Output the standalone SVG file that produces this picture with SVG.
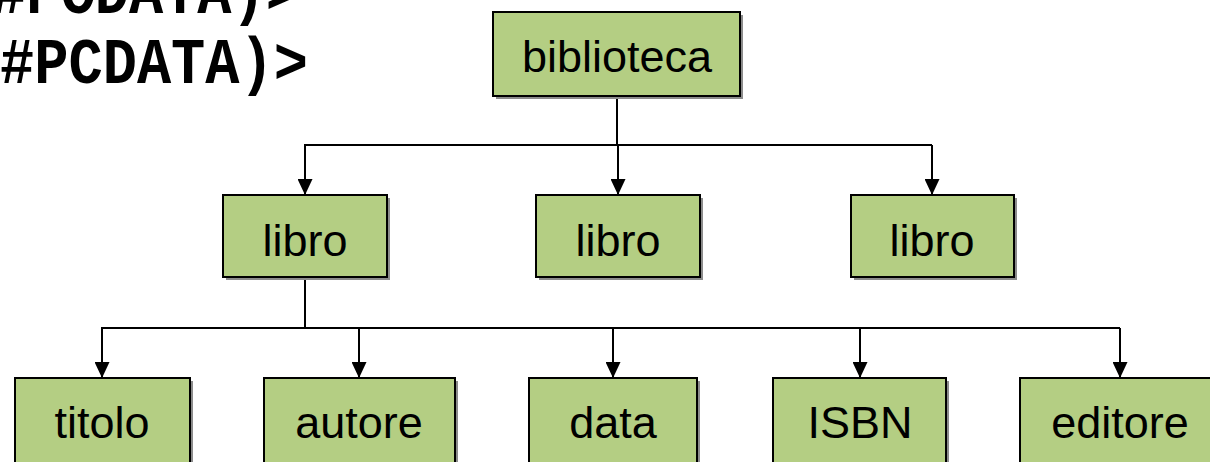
<svg xmlns="http://www.w3.org/2000/svg" width="1210" height="462" viewBox="0 0 1210 462">
  <style>
    .box { fill: #b4ce83; stroke: #000; stroke-width: 2; }
    .shadow { fill: #8c8c8c; }
    .label { font-family: "Liberation Sans", Arial, sans-serif; font-size: 45px; fill: #000; text-anchor: middle; }
    .code { font-family: "Liberation Mono", "Courier New", monospace; font-weight: bold; font-size: 64px; fill: #000; }
    .wire { fill: none; stroke: #000; stroke-width: 2; }
  </style>
  <defs>
    <marker id="arrow" viewBox="0 0 16 15" refX="16" refY="7.5" markerWidth="16" markerHeight="15" markerUnits="userSpaceOnUse" orient="auto">
      <path d="M0,0 L16,7.5 L0,15 z" fill="#000"/>
    </marker>
  </defs>

  <!-- DTD fragment at top left -->
  <g id="code">
    <text class="code" x="-8" y="13" textLength="308" lengthAdjust="spacingAndGlyphs">#PCDATA)&gt;</text>
    <text class="code" x="0" y="83" textLength="308" lengthAdjust="spacingAndGlyphs">#PCDATA)&gt;</text>
  </g>

  <!-- connectors -->
  <g id="connectors">
    <path class="wire" d="M617,96 V145"/>
    <path class="wire" d="M304,145 H932"/>
    <path class="wire" d="M305,145 V195" marker-end="url(#arrow)"/>
    <path class="wire" d="M618,145 V195" marker-end="url(#arrow)"/>
    <path class="wire" d="M932,145 V195" marker-end="url(#arrow)"/>
    <path class="wire" d="M305,277 V328"/>
    <path class="wire" d="M101,328 H1120"/>
    <path class="wire" d="M102,328 V378" marker-end="url(#arrow)"/>
    <path class="wire" d="M359,328 V378" marker-end="url(#arrow)"/>
    <path class="wire" d="M613,328 V378" marker-end="url(#arrow)"/>
    <path class="wire" d="M860,328 V378" marker-end="url(#arrow)"/>
    <path class="wire" d="M1120,328 V378" marker-end="url(#arrow)"/>
  </g>

  <g id="biblioteca">
    <rect class="shadow" x="496" y="15" width="247" height="84"/>
    <rect class="box" x="493" y="12" width="247" height="84"/>
    <text class="label" x="617" y="72">biblioteca</text>
  </g>

  <g id="libro1">
    <rect class="shadow" x="226" y="198" width="164" height="82"/>
    <rect class="box" x="223" y="195" width="164" height="82"/>
    <text class="label" x="305" y="256">libro</text>
  </g>
  <g id="libro2">
    <rect class="shadow" x="539" y="198" width="164" height="82"/>
    <rect class="box" x="536" y="195" width="164" height="82"/>
    <text class="label" x="618" y="256">libro</text>
  </g>
  <g id="libro3">
    <rect class="shadow" x="854" y="198" width="163" height="82"/>
    <rect class="box" x="851" y="195" width="163" height="82"/>
    <text class="label" x="932" y="256">libro</text>
  </g>

  <g id="titolo">
    <rect class="shadow" x="18" y="381" width="175" height="90"/>
    <rect class="box" x="15" y="378" width="175" height="90"/>
    <text class="label" x="102" y="438">titolo</text>
  </g>
  <g id="autore">
    <rect class="shadow" x="267" y="381" width="191" height="90"/>
    <rect class="box" x="264" y="378" width="191" height="90"/>
    <text class="label" x="359" y="438">autore</text>
  </g>
  <g id="data">
    <rect class="shadow" x="532" y="381" width="168" height="90"/>
    <rect class="box" x="529" y="378" width="168" height="90"/>
    <text class="label" x="613" y="438">data</text>
  </g>
  <g id="isbn">
    <rect class="shadow" x="776" y="381" width="173" height="90"/>
    <rect class="box" x="773" y="378" width="173" height="90"/>
    <text class="label" x="860" y="438">ISBN</text>
  </g>
  <g id="editore">
    <rect class="shadow" x="1023" y="381" width="200" height="90"/>
    <rect class="box" x="1020" y="378" width="200" height="90"/>
    <text class="label" x="1120" y="438">editore</text>
  </g>
</svg>
